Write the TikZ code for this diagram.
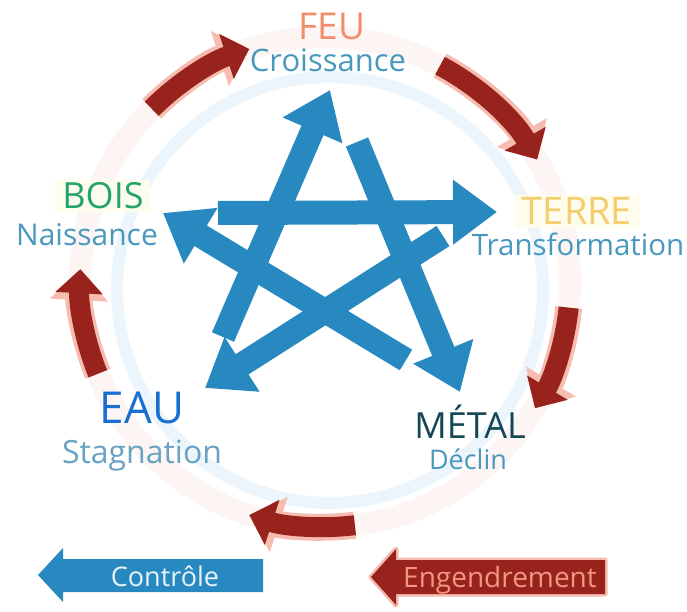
\documentclass[tikz,border=0pt]{standalone}
\usepackage{fontspec}
\setmainfont{Open Sans}
\usetikzlibrary{arrows.meta}
\definecolor{starblue}{RGB}{40,137,192}
\definecolor{cycred}{RGB}{152,34,28}
\definecolor{glowred}{RGB}{246,188,176}
\definecolor{ringblue}{RGB}{236,245,251}
\definecolor{ringpink}{RGB}{253,245,244}
\definecolor{feucol}{RGB}{242,140,105}
\definecolor{subblue}{RGB}{74,152,190}
\definecolor{boiscol}{RGB}{35,165,105}
\definecolor{terrecol}{RGB}{245,205,110}
\definecolor{eaucol}{RGB}{25,110,210}
\definecolor{stagcol}{RGB}{105,163,195}
\definecolor{metalcol}{RGB}{20,70,85}
\definecolor{ctrltext}{RGB}{232,242,248}
\definecolor{gentext}{RGB}{242,150,130}
\definecolor{softyellow}{RGB}{254,252,236}
\newcommand\fsz[1]{\fontsize{#1}{#1}\selectfont}
\begin{document}
\begin{tikzpicture}[x=1pt,y=-1pt,
  ctrl/.style={line width=24pt, starblue, -{Triangle[width=62pt,length=44pt]}},
  gen/.style={line width=20pt, cycred, -{Triangle[width=46pt,length=24pt]}},
  genglow/.style={line width=27pt, glowred, -{Triangle[width=56pt,length=31pt]}},
  lab/.style={inner sep=0pt, anchor=base}]
\useasboundingbox (0,0) rectangle (687,612);
\fill[white] (0,0) rectangle (687,612);
% faint rings
\coordinate (c) at (325,282);
\draw[line width=22pt, ringpink] (c) circle[radius=245];
\draw[line width=12pt, ringblue] (330,290) circle[radius=213];
% soft label backgrounds
\fill[softyellow] (55,180) rectangle (150,212);
\fill[softyellow] (515,195) rectangle (640,228);
% labels
\node[lab, text=feucol] (feu) at (332,40) {\fsz{37}FEU};
\node[lab, text=subblue] (croissance) at (328,72) {\fsz{31}Croissance};
\node[lab, text=boiscol] (bois) at (103,208) {\fsz{36}BOIS};
\node[lab, text=subblue] (naissance) at (87,245) {\fsz{30}Naissance};
\node[lab, text=terrecol] (terre) at (577,225) {\fsz{38}TERRE};
\node[lab, text=subblue] (transformation) at (578,255) {\fsz{29.5}Transformation};
\node[lab, text=eaucol] (eau) at (142,423) {\fsz{44}EAU};
\node[lab, text=stagcol] (stagnation) at (142,463) {\fsz{32}Stagnation};
\node[lab, text=metalcol] (metal) at (470,438) {\fsz{36}MÉTAL};
\node[lab, text=subblue] (declin) at (468,469) {\fsz{27}Déclin};
% engendrement cycle (red arcs)
\foreach \a/\b in {-135/-108, -62/-30, 6/31, 83/108, 158/183}{
  \draw[genglow] ([shift={(\a:245)}]c) arc[start angle=\a, end angle=\b, radius=245];
  \draw[gen] ([shift={(\a:245)}]c) arc[start angle=\a, end angle=\b, radius=245];
}
% star points (tails and tips)
\coordinate (eauTail) at (223,337);   \coordinate (feuTip) at (330,90);
\coordinate (feuTail) at (357,142);   \coordinate (metalTip) at (460,392);
\coordinate (boisTail) at (218,213);  \coordinate (terreTip) at (497,212);
\coordinate (metalTail) at (406,360); \coordinate (boisTip) at (163,213);
\coordinate (terreTail) at (443,236); \coordinate (eauTip) at (205,388);
% controle cycle (blue star)
\draw[ctrl] (metalTail) -- (boisTip);
\draw[ctrl] (terreTail) -- (eauTip);
\draw[ctrl] (eauTail) -- (feuTip);
\draw[ctrl] (feuTail) -- (metalTip);
\draw[ctrl] (boisTail) -- (terreTip);
% legend
\fill[starblue] (38,575) -- (63,548) -- (63,559) -- (263,559) -- (263,592) -- (63,592) -- (63,602) -- cycle;
\node[lab, text=ctrltext] (controle) at (165,586) {\fsz{27}Contrôle};
\draw[line width=5pt, glowred, line join=round] (371,577) -- (396,549) -- (396,560) -- (605,560) -- (605,594) -- (396,594) -- (396,605) -- cycle;
\fill[cycred] (371,577) -- (396,549) -- (396,560) -- (605,560) -- (605,594) -- (396,594) -- (396,605) -- cycle;
\node[lab, text=gentext] (engendrement) at (500,587) {\fsz{28}Engendrement};
\end{tikzpicture}
\end{document}
